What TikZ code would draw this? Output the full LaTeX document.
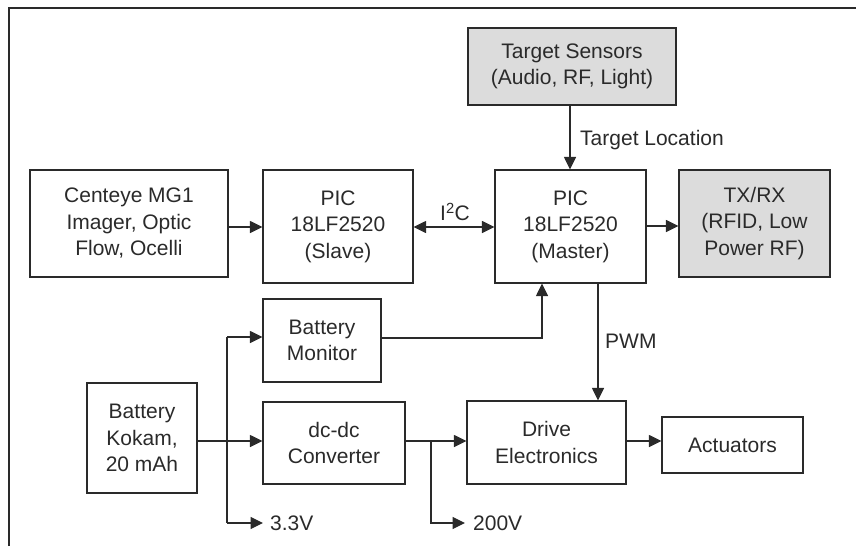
\documentclass[tikz,border=0pt]{standalone}
\usepackage{fontspec}
\setmainfont{Liberation Sans}
\usetikzlibrary{arrows.meta}
\definecolor{ink}{HTML}{2A2A2A}
\definecolor{shade}{HTML}{DCDCDC}
\tikzset{
  blk/.style={draw=ink, line width=1.1pt, align=center, inner sep=0pt, font=\fontsize{21}{26.5}\selectfont, text=ink},
  gblk/.style={blk, fill=shade},
  tip/.tip={Triangle[length=12.5pt,width=12pt]},
  conn/.style={draw=ink, line width=1.1pt, -tip},
  line/.style={draw=ink, line width=1.1pt},
  lbl/.style={font=\fontsize{21}{26.5}\selectfont, text=ink, inner sep=0pt}
}
\begin{document}
\begin{tikzpicture}[x=1pt,y=-1pt]
\useasboundingbox (0,0) rectangle (856,546);
\draw[line] (9,546) -- (9,8) -- (856,8);

\node[blk, minimum width=198pt, minimum height=107pt] (cent) at (129,223.5) {Centeye MG1\\Imager, Optic\\Flow, Ocelli};
\node[blk, minimum width=150pt, minimum height=113pt] (slave) at (338,226.5) {PIC\\18LF2520\\(Slave)};
\node[blk, minimum width=151pt, minimum height=113pt] (master) at (570.5,226.5) {PIC\\18LF2520\\(Master)};
\node[gblk, minimum width=151pt, minimum height=107pt] (txrx) at (754.5,223.5) {TX/RX\\(RFID, Low\\Power RF)};
\node[gblk, minimum width=208pt, minimum height=77pt] (sens) at (572,66.5) {Target Sensors\\(Audio, RF, Light)};
\node[blk, minimum width=118pt, minimum height=83pt] (bmon) at (322,340.5) {Battery\\Monitor};
\node[blk, minimum width=110pt, minimum height=110pt] (batt) at (142,438) {Battery\\Kokam,\\20 mAh};
\node[blk, minimum width=142pt, minimum height=82pt] (dcdc) at (334,443) {dc-dc\\Converter};
\node[blk, minimum width=159pt, minimum height=83pt] (drive) at (546.5,442.5) {Drive\\Electronics};
\node[blk, minimum width=141pt, minimum height=56pt] (act) at (732.5,445) {Actuators};

\coordinate (j1) at (227,441);
\coordinate (j1top) at (227,337);
\coordinate (j1bot) at (227,523);
\coordinate (v33) at (263,523);
\coordinate (j2) at (431,441);
\coordinate (j2bot) at (431,523);
\coordinate (v200) at (465,523);
\coordinate (bm) at (542,338);
\coordinate (pwm) at (598,283);

\node[lbl, anchor=west] (l33) at (270,523) {3.3V};
\node[lbl, anchor=west] (l200) at (473,523) {200V};
\node[lbl, anchor=west] (ltl) at (580,140) {Target Location};
\node[lbl] (li2c) at (455,212) {I\textsuperscript{2}C};
\node[lbl, anchor=west] (lpwm) at (605,341) {PWM};

\draw[conn] (cent.east |- 0,227) -- (slave.west |- 0,227);
\draw[conn, tip-tip] (slave.east |- 0,227) -- (master.west |- 0,227);
\draw[conn] (master.east |- 0,226) -- (txrx.west |- 0,226);
\draw[conn] (sens.south -| 570,0) -- (master.north -| 570,0);
\draw[conn] (bmon.east |- bm) -- (bm) -- (master.south -| bm);
\draw[conn] (pwm) -- (drive.north -| pwm);
\draw[line] (batt.east |- j1) -- (j1);
\draw[conn] (j1) -- (dcdc.west |- j1);
\draw[line] (j1top) -- (j1bot);
\draw[conn] (j1top) -- (bmon.west |- j1top);
\draw[conn] (j1bot) -- (v33);
\draw[conn] (dcdc.east |- j2) -- (drive.west |- j2);
\draw[conn] (j2) -- (j2bot) -- (v200);
\draw[conn] (drive.east |- j2) -- (act.west |- j2);
\end{tikzpicture}
\end{document}
